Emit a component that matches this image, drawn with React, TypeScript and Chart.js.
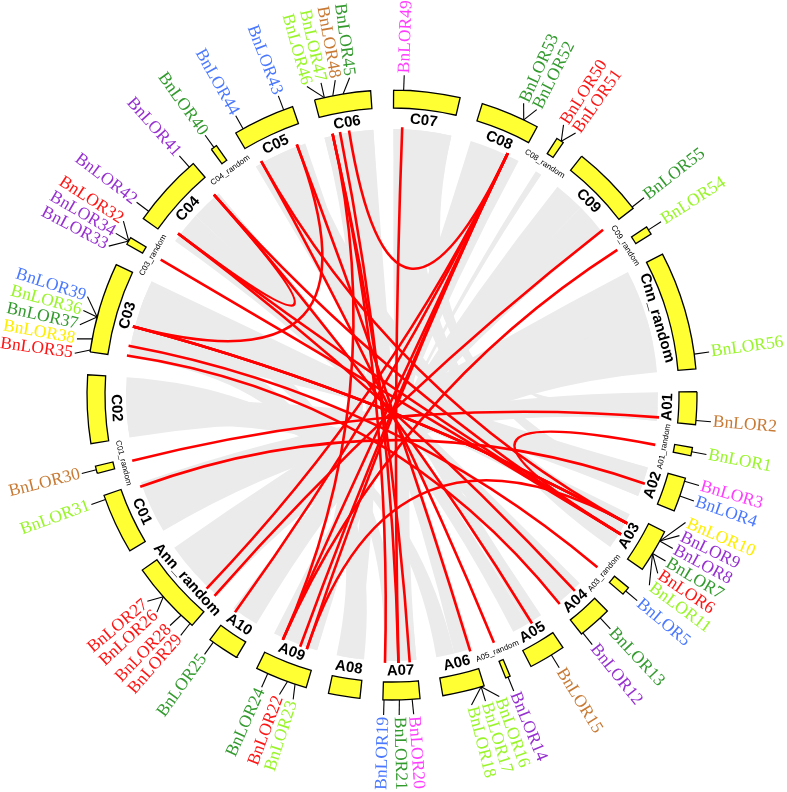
import React, { useEffect, useRef } from 'react';
import { Chart, registerables } from 'chart.js';

Chart.register(...registerables);

// ---- chromosomes (clockwise from top), lengths in Mb ----
const chromosomes = ['C07', 'C08', 'C08_random', 'C09', 'C09_random', 'Cnn_random', 'A01', 'A01_random', 'A02', 'A03', 'A03_random', 'A04', 'A05', 'A05_random', 'A06', 'A07', 'A08', 'A09', 'A10', 'Ann_random', 'C01', 'C01_random', 'C02', 'C03', 'C03_random', 'C04', 'C04_random', 'C05', 'C06'];
const chromLengths = [46.7, 41.5, 5.2, 51.1, 5.9, 83.7, 23.0, 5.9, 24.1, 30.4, 5.9, 24.1, 25.9, 3.3, 29.6, 25.9, 22.2, 37.0, 22.2, 51.9, 42.6, 5.2, 48.1, 63.7, 5.2, 51.9, 4.4, 43.7, 39.6];
const GAP = 16;

// ---- genes (label order clockwise) ----
const geneNames = ['BnLOR49', 'BnLOR53', 'BnLOR52', 'BnLOR50', 'BnLOR51', 'BnLOR55', 'BnLOR54', 'BnLOR56', 'BnLOR2', 'BnLOR1', 'BnLOR3', 'BnLOR4', 'BnLOR10', 'BnLOR9', 'BnLOR8', 'BnLOR7', 'BnLOR6', 'BnLOR11', 'BnLOR5', 'BnLOR13', 'BnLOR12', 'BnLOR15', 'BnLOR14', 'BnLOR16', 'BnLOR17', 'BnLOR18', 'BnLOR20', 'BnLOR21', 'BnLOR19', 'BnLOR23', 'BnLOR22', 'BnLOR24', 'BnLOR25', 'BnLOR29', 'BnLOR28', 'BnLOR26', 'BnLOR27', 'BnLOR31', 'BnLOR30', 'BnLOR35', 'BnLOR38', 'BnLOR37', 'BnLOR36', 'BnLOR39', 'BnLOR33', 'BnLOR34', 'BnLOR32', 'BnLOR42', 'BnLOR41', 'BnLOR40', 'BnLOR44', 'BnLOR43', 'BnLOR46', 'BnLOR47', 'BnLOR48', 'BnLOR45'];
const geneChroms = ['C07', 'C08', 'C08', 'C08_random', 'C08_random', 'C09', 'C09_random', 'Cnn_random', 'A01', 'A01_random', 'A02', 'A02', 'A03', 'A03', 'A03', 'A03', 'A03', 'A03', 'A03_random', 'A04', 'A04', 'A05', 'A05_random', 'A06', 'A06', 'A06', 'A07', 'A07', 'A07', 'A09', 'A09', 'A09', 'A10', 'Ann_random', 'Ann_random', 'Ann_random', 'Ann_random', 'C01', 'C01_random', 'C03', 'C03', 'C03', 'C03', 'C03', 'C03_random', 'C03_random', 'C03_random', 'C04', 'C04', 'C04_random', 'C05', 'C05', 'C06', 'C06', 'C06', 'C06'];
const genePositions = [7.0, 31.0, 31.0, 3.6, 3.6, 50.0, 2.4, 73.4, 20.0, 3.0, 2.2, 13.0, 7.3, 7.3, 7.3, 17.3, 17.3, 17.3, 3.0, 7.0, 22.9, 9.6, 1.6, 2.2, 2.2, 2.2, 5.5, 14.4, 25.1, 8.1, 13.7, 28.5, 19.3, 1.9, 10.4, 28.2, 28.2, 39.6, 2.6, 1.3, 9.2, 24.8, 24.8, 24.8, 2.6, 2.6, 2.6, 6.3, 48.2, 2.2, 5.9, 37.1, 7.0, 7.0, 13.0, 20.3];
const geneGroups = ['magenta', 'green', 'green', 'red', 'red', 'green', 'lime', 'lime', 'brown', 'lime', 'magenta', 'blue', 'yellow', 'purple', 'purple', 'green', 'red', 'lime', 'blue', 'green', 'purple', 'brown', 'purple', 'lime', 'lime', 'lime', 'magenta', 'green', 'blue', 'lime', 'red', 'green', 'green', 'red', 'red', 'red', 'red', 'lime', 'brown', 'red', 'yellow', 'green', 'lime', 'blue', 'purple', 'purple', 'red', 'purple', 'purple', 'green', 'blue', 'blue', 'lime', 'lime', 'brown', 'green'];

// ---- segmental duplication links (red) ----
const linkSources = ['BnLOR49', 'BnLOR53', 'BnLOR52', 'BnLOR53', 'BnLOR52', 'BnLOR53', 'BnLOR55', 'BnLOR52', 'BnLOR54', 'BnLOR2', 'BnLOR1', 'BnLOR4', 'BnLOR10', 'BnLOR9', 'BnLOR8', 'BnLOR7', 'BnLOR6', 'BnLOR11', 'BnLOR10', 'BnLOR5', 'BnLOR13', 'BnLOR12', 'BnLOR15', 'BnLOR14', 'BnLOR16', 'BnLOR43', 'BnLOR42', 'BnLOR20', 'BnLOR19', 'BnLOR21', 'BnLOR23', 'BnLOR24'];
const linkTargets = ['BnLOR21', 'BnLOR45', 'BnLOR24', 'BnLOR22', 'BnLOR23', 'BnLOR25', 'BnLOR29', 'BnLOR28', 'BnLOR24', 'BnLOR30', 'BnLOR7', 'BnLOR31', 'BnLOR39', 'BnLOR36', 'BnLOR37', 'BnLOR32', 'BnLOR42', 'BnLOR41', 'BnLOR44', 'BnLOR38', 'BnLOR42', 'BnLOR35', 'BnLOR41', 'BnLOR44', 'BnLOR43', 'BnLOR36', 'BnLOR41', 'BnLOR46', 'BnLOR47', 'BnLOR48', 'BnLOR8', 'BnLOR46'];

// ---- syntenic blocks (gray background ribbons), Mb ----
const ribbonChromA = ['A01', 'A02', 'A02', 'A03', 'A03', 'A04', 'A05', 'A05', 'A06', 'A06', 'A07', 'A08', 'A09', 'A09', 'A10', 'Ann_random', 'C08_random', 'A01', 'A07', 'A09', 'A07', 'A03', 'A02', 'A04', 'A08'];
const ribbonStartA = [0, 0, 12, 0, 15, 0, 0, 13, 0, 15, 0, 0, 0, 18, 0, 0, 0, 12, 13, 0, 0, 5, 0, 8, 5];
const ribbonEndA = [23, 12, 24.1, 15, 30.4, 24.1, 13, 25.9, 15, 29.6, 25.9, 22.2, 18, 37, 22.2, 51.9, 5.2, 23, 25.9, 18, 12, 25, 24.1, 20, 20];
const ribbonChromB = ['C01', 'C02', 'C07', 'C03', 'C07', 'C04', 'C05', 'C04', 'C05', 'C02', 'C06', 'C03', 'C08', 'C09', 'C09', 'Cnn_random', 'A09', 'Cnn_random', 'C03', 'C06', 'C07', 'C05', 'C03', 'C02', 'C06'];
const ribbonStartB = [0, 0, 25, 30, 0, 0, 0, 26, 22, 30, 0, 0, 0, 0, 25, 0, 10, 40, 40, 0, 0, 5, 5, 5, 15];
const ribbonEndB = [42.6, 30, 46.7, 63.7, 25, 26, 22, 51.9, 43.7, 48.1, 39.6, 30, 41.5, 25, 51.1, 83.7, 12, 60, 60, 25, 46.7, 40, 50, 40, 39.6];

const PALETTE: Record<string, string> = {
  red: '#ff1414',
  green: '#339a2e',
  lime: '#99f52a',
  purple: '#9630d0',
  blue: '#4a78ff',
  magenta: '#ff3cff',
  brown: '#c87a34',
  yellow: '#ffee00',
};
const BOX_YELLOW = '#ffff33';

const circosPlugin = {
  id: 'circos',
  beforeDatasetsDraw(chart: any) {
    const arcs = chart.getDatasetMeta(0).data as any[];
    if (!arcs.length) return;
    const ctx = chart.ctx as CanvasRenderingContext2D;
    const cx = arcs[0].x;
    const cy = arcs[0].y;
    const inner = arcs[0].innerRadius;
    const angleOf = (chrom: string, pos: number) => {
      const i = chromosomes.indexOf(chrom);
      const a = arcs[2 * i];
      return a.startAngle + (pos / chromLengths[i]) * (a.endAngle - a.startAngle);
    };
    const px = (a: number, r: number) => cx + r * Math.cos(a);
    const py = (a: number, r: number) => cy + r * Math.sin(a);

    // gray ribbons
    const rG = inner - 21;
    ctx.save();
    ctx.fillStyle = '#ebebeb';
    for (let k = 0; k < ribbonChromA.length; k++) {
      const s0 = angleOf(ribbonChromA[k], ribbonStartA[k]);
      const s1 = angleOf(ribbonChromA[k], ribbonEndA[k]);
      const t0 = angleOf(ribbonChromB[k], ribbonStartB[k]);
      const t1 = angleOf(ribbonChromB[k], ribbonEndB[k]);
      ctx.beginPath();
      ctx.moveTo(px(s0, rG), py(s0, rG));
      ctx.arc(cx, cy, rG, s0, s1);
      ctx.quadraticCurveTo(cx, cy, px(t0, rG), py(t0, rG));
      ctx.arc(cx, cy, rG, t0, t1);
      ctx.quadraticCurveTo(cx, cy, px(s0, rG), py(s0, rG));
      ctx.closePath();
      ctx.fill();
    }
    ctx.restore();

    // red links
    const rL = inner - 19;
    ctx.save();
    ctx.strokeStyle = '#ff0000';
    ctx.lineWidth = 2.6;
    for (let k = 0; k < linkSources.length; k++) {
      const i = geneNames.indexOf(linkSources[k]);
      const j = geneNames.indexOf(linkTargets[k]);
      const a1 = angleOf(geneChroms[i], genePositions[i]);
      const a2 = angleOf(geneChroms[j], genePositions[j]);
      ctx.beginPath();
      ctx.moveTo(px(a1, rL), py(a1, rL));
      ctx.quadraticCurveTo(cx, cy, px(a2, rL), py(a2, rL));
      ctx.stroke();
    }
    ctx.restore();
  },
  afterDatasetsDraw(chart: any) {
    const arcs = chart.getDatasetMeta(0).data as any[];
    if (!arcs.length) return;
    const ctx = chart.ctx as CanvasRenderingContext2D;
    const cx = arcs[0].x;
    const cy = arcs[0].y;
    const inner = arcs[0].innerRadius;
    const outer = arcs[0].outerRadius;
    const px = (a: number, r: number) => cx + r * Math.cos(a);
    const py = (a: number, r: number) => cy + r * Math.sin(a);
    const clockDeg = (a: number) => {
      let d = (a * 180) / Math.PI + 90;
      d = ((d % 360) + 360) % 360;
      return d;
    };

    // chromosome names
    const rC = inner - 11;
    ctx.save();
    ctx.fillStyle = '#000';
    ctx.textBaseline = 'middle';
    ctx.textAlign = 'center';
    chromosomes.forEach((name, i) => {
      const a = arcs[2 * i];
      const mid = (a.startAngle + a.endAngle) / 2;
      const small = name.includes('_random') && !name.startsWith('Ann') && !name.startsWith('Cnn');
      ctx.font = small ? '8px "Liberation Sans", Arial, sans-serif' : 'bold 15px "Liberation Sans", Arial, sans-serif';
      const d = clockDeg(mid);
      const rot = d >= 90 && d < 270 ? mid - Math.PI / 2 : mid + Math.PI / 2;
      const r = small ? rC + 1 : rC;
      ctx.save();
      ctx.translate(px(mid, r), py(mid, r));
      ctx.rotate(rot);
      ctx.fillText(name, 0, 0);
      ctx.restore();
    });
    ctx.restore();

    // gene labels with spread positions
    const n = geneNames.length;
    const gAng = geneNames.map((_, i) => {
      const ci = chromosomes.indexOf(geneChroms[i]);
      const a = arcs[2 * ci];
      return a.startAngle + (genePositions[i] / chromLengths[ci]) * (a.endAngle - a.startAngle);
    });
    const order = gAng.map((_, i) => i).sort((p, q) => gAng[p] - gAng[q] || p - q);
    const lab = order.map((i) => gAng[i]);
    const sp = (2.6 * Math.PI) / 180;
    for (let it = 0; it < 300; it++) {
      for (let k = 1; k < n; k++) {
        const dd = lab[k] - lab[k - 1];
        if (dd < sp - 1e-6) {
          const sh = (sp - dd) / 2;
          lab[k - 1] -= sh;
          lab[k] += sh;
        }
      }
    }
    const rTick = outer + 15;
    const rText = outer + 17;
    ctx.save();
    ctx.font = '17.5px "Liberation Serif", "Times New Roman", serif';
    ctx.textBaseline = 'middle';
    order.forEach((gi, k) => {
      const ga = gAng[gi];
      const la = lab[k];
      ctx.strokeStyle = '#000';
      ctx.lineWidth = 1.1;
      ctx.beginPath();
      ctx.moveTo(px(ga, outer), py(ga, outer));
      ctx.lineTo(px(la, rTick), py(la, rTick));
      ctx.stroke();
      const d = clockDeg(la);
      ctx.save();
      ctx.translate(px(la, rText), py(la, rText));
      if (d < 180) {
        ctx.rotate(la);
        ctx.textAlign = 'left';
      } else {
        ctx.rotate(la + Math.PI);
        ctx.textAlign = 'right';
      }
      ctx.fillStyle = PALETTE[geneGroups[gi]];
      ctx.fillText(geneNames[gi], 0, 0);
      ctx.restore();
    });
    ctx.restore();
  },
};

export default function App() {
  const ref = useRef<HTMLCanvasElement>(null);
  useEffect(() => {
    const canvas = ref.current;
    if (!canvas) return;
    const values: number[] = [];
    const bg: string[] = [];
    const bc: string[] = [];
    const bw: number[] = [];
    const labels: string[] = [];
    chromLengths.forEach((len, i) => {
      values.push(len, GAP);
      labels.push(chromosomes[i], '');
      bg.push(BOX_YELLOW, 'rgba(0,0,0,0)');
      bc.push('#000000', 'rgba(0,0,0,0)');
      bw.push(1.3, 0);
    });
    const chart = new Chart(canvas, {
      type: 'doughnut',
      data: {
        labels,
        datasets: [
          {
            data: values,
            backgroundColor: bg,
            borderColor: bc,
            borderWidth: bw,
            borderJoinStyle: 'miter',
            hoverOffset: 0,
          } as any,
        ],
      },
      options: {
        responsive: false,
        animation: false,
        events: [],
        rotation: 0.3,
        radius: 305,
        cutout: ((287 / 305) * 100).toFixed(3) + '%',
        layout: { padding: { left: 0, right: 3, top: 0, bottom: 2 } },
        plugins: { legend: { display: false }, tooltip: { enabled: false } },
      } as any,
      plugins: [circosPlugin],
    });
    return () => chart.destroy();
  }, []);
  return (
    <div style={{ position: 'fixed', left: 0, top: 0, width: 787, height: 792, background: '#ffffff' }}>
      <canvas ref={ref} width={787} height={792} style={{ display: 'block' }} />
    </div>
  );
}
